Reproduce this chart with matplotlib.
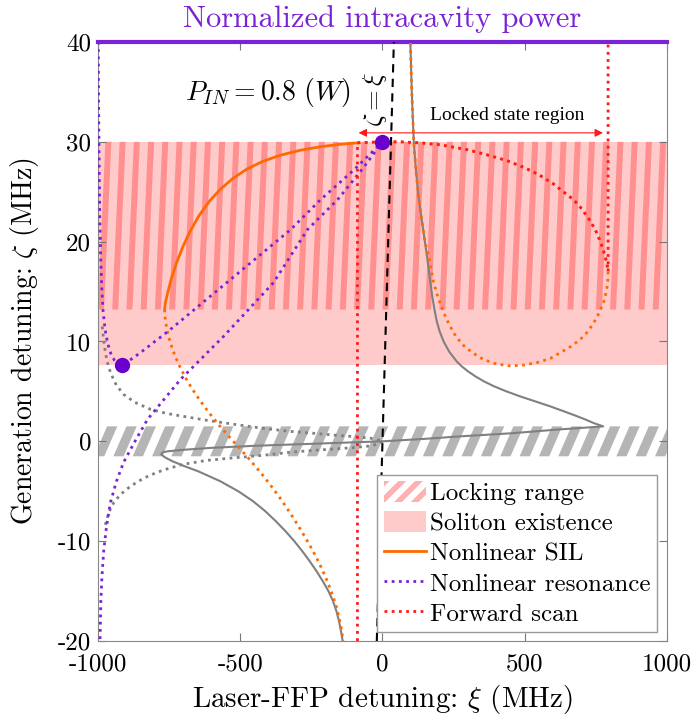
import numpy as np
import matplotlib
matplotlib.use('Agg')
import matplotlib.pyplot as plt
from matplotlib.collections import PolyCollection
from matplotlib.patches import Patch

plt.rcParams['font.family'] = 'cmr10'
plt.rcParams['mathtext.fontset'] = 'cm'
plt.rcParams['axes.unicode_minus'] = False
plt.rcParams['hatch.linewidth'] = 4

# bands (MHz)
soliton_lo, soliton_hi = 7.6, 30.0
lock_lo, lock_hi = 13.2, 30.0
lin_lock_lo, lin_lock_hi = -1.5, 1.5

# ticks
xticks = [-1000, -500, 0, 500, 1000]
yticks = [-20, -10, 0, 10, 20, 30, 40]

# linear SIL curve (grey solid)
lin_xi = [-140, -146, -153, -162, -174, -190, -210, -232, -256, -282, -310, -341, -375, -412, -455, -507,
          -570, -648, -695, -738, -765, -778,
          -772, -755, -700, -600, -450, -300, -150, 0,
          150, 274, 450, 625, 730, 776,
          745, 712, 676, 638, 590, 537, 484, 436, 393, 357, 327, 301, 279, 261, 234, 215, 201, 191,
          184, 175, 168, 159, 149, 139, 128, 118, 110, 103, 98]
lin_zeta = [-20, -19, -18, -17, -16, -15, -14, -13, -12, -11, -10, -9, -8, -7, -6, -5,
            -4, -3, -2.5, -2.0, -1.6, -1.3,
            -1.1, -1.0, -0.85, -0.65, -0.45, -0.3, -0.15, 0,
            0.25, 0.5, 0.8, 1.2, 1.4, 1.5,
            1.8, 2.2, 2.6, 3.0, 3.5, 4.0, 4.5, 5.0, 5.5, 6.0, 6.5, 7.0, 7.5, 8.0, 9.0, 10.0, 11.0, 12.0,
            13.0, 14.5, 16.0, 18.0, 20.0, 22.0, 24.2, 27.0, 30.0, 35.0, 40.0]

# linear resonance (grey dotted), upper and lower branches
linres_up_xi = [-985, -978, -968, -955, -935, -910, -870, -815, -760, -700, -616, -520, -420, -326,
                -240, -160, -90, -40, -10, 0]
linres_up_zeta = [11.5, 9.6, 8.0, 6.8, 5.6, 4.7, 3.9, 3.2, 2.8, 2.5, 2.1, 1.7, 1.3, 1.0,
                  0.8, 0.6, 0.45, 0.3, 0.1, 0]
linres_lo_xi = [0, -10, -40, -90, -160, -240, -326, -420, -520, -616, -700, -750, -792, -840, -886,
                -920, -944, -960, -970, -978]
linres_lo_zeta = [0, -0.2, -0.45, -0.6, -0.75, -0.9, -1.1, -1.4, -1.65, -1.9, -2.3, -2.7, -3.1, -3.7, -4.5,
                  -5.3, -6.1, -7.0, -7.9, -8.8]

# nonlinear SIL (orange): stable arc, lower unstable part, upper right part, loop
sil_stable_xi = [-88, -150, -220, -290, -360, -420, -475, -525, -570, -610, -645, -677, -703, -725, -742,
                 -755, -763, -766]
sil_stable_zeta = [29.9, 29.75, 29.5, 29.15, 28.65, 28.05, 27.3, 26.35, 25.25, 24.0, 22.6, 21.0, 19.4,
                   17.8, 16.3, 14.9, 13.9, 13.2]
sil_lower_xi = [-766, -764, -759, -751, -740, -727, -711, -693, -672, -649, -624, -597, -568, -537, -505,
                -474, -444, -415, -388, -362, -338, -315, -293, -272, -252, -233, -216, -200, -186, -173,
                -162, -153, -146, -138]
sil_lower_zeta = [13.2, 12.4, 11.4, 10.4, 9.4, 8.4, 7.4, 6.4, 5.4, 4.4, 3.4, 2.4, 1.4, 0.4, -0.6,
                  -1.6, -2.6, -3.6, -4.6, -5.6, -6.6, -7.6, -8.6, -9.6, -10.6, -11.6, -12.6, -13.6, -14.6,
                  -15.6, -16.6, -17.6, -18.6, -20.0]
sil_top_xi = [-88, 0, 60, 130, 204, 300, 380, 439, 500, 550, 600, 640, 672, 700, 725, 748, 766, 780, 789, 793]
sil_top_zeta = [29.9, 30.0, 30.0, 29.9, 29.7, 29.2, 28.6, 28.1, 27.4, 26.7, 25.8, 24.9, 24.2, 23.3, 22.3,
                21.2, 20.0, 18.8, 17.8, 17.0]
sil_loop_xi = [793, 792, 787, 778, 764, 745, 722, 695, 662, 626, 590, 545, 500, 450, 400, 355, 315, 285,
               258, 236, 218, 203, 191, 181, 172, 163, 149, 139, 128, 118, 110, 103, 98]
sil_loop_zeta = [17.0, 16.0, 15.0, 14.0, 13.0, 12.0, 11.0, 10.2, 9.5, 8.9, 8.3, 7.9, 7.65, 7.55, 7.75, 8.2,
                 8.9, 9.6, 10.5, 11.6, 12.7, 13.8, 14.8, 15.8, 17.0, 18.5, 20.0, 22.0, 24.2, 27.0, 30.0,
                 35.0, 40.0]

# nonlinear resonance (purple dotted)
res_xi = [-999, -998, -996, -994, -991, -987, -982, -975, -966, -955, -942, -928, -914,
          -850, -750, -560, -323, -218, -100, 0,
          -70, -158, -264, -383, -559, -710, -826, -870, -910, -935, -956, -970, -980, -986, -990, -993]
res_zeta = [40, 34, 28, 23, 19, 15.5, 13, 11.2, 9.8, 8.8, 8.1, 7.7, 7.6,
            8.9, 11.1, 15.6, 21.2, 24.2, 27.2, 30,
            27.3, 24.2, 21.2, 15.9, 10.5, 6.2, 2.2, 0.0, -2.1, -4.0, -6.1, -8.5, -11, -13.5, -16, -20]
res_pts_xi = [0, -914]
res_pts_zeta = [30, 7.6]

# forward scan (red dotted)
scan_start_xi = -88
scan_xi = [scan_start_xi, scan_start_xi] + sil_top_xi + [sil_top_xi[-1]]
scan_zeta = [-20, 29.9] + sil_top_zeta + [40]

# zeta = xi line
diag_xi = np.array([-20, 40])

purple = '#7a22d6'
orange = '#ff6a00'
red = '#ff1a1a'
grey = '#808080'

fig = plt.figure(figsize=(6.96, 7.19), dpi=100)
ax = fig.add_axes([0.1408, 0.1085, 0.8175, 0.8331])

# soliton existence band
ax.axhspan(soliton_lo, soliton_hi, color='#ffcaca', lw=0, zorder=0)

# locking range stripes
stripes = []
for x0 in np.arange(-1150, 1100, 50):
    stripes.append([(x0, lock_lo), (x0 + 21, lock_lo), (x0 + 21 + 26, lock_hi), (x0 + 26, lock_hi)])
ax.add_collection(PolyCollection(stripes, facecolors='#ff9090', edgecolors='none', zorder=1))

gstripes = []
for x0 in np.arange(-1150, 1100, 68):
    gstripes.append([(x0, lin_lock_lo), (x0 + 36, lin_lock_lo), (x0 + 36 + 46, lin_lock_hi), (x0 + 46, lin_lock_hi)])
ax.add_collection(PolyCollection(gstripes, facecolors='#b5b5b5', edgecolors='none', zorder=1))

dot = (0, (1, 1.6))
ax.plot(lin_xi, lin_zeta, color=grey, lw=1.5, zorder=2)
ax.plot(linres_up_xi, linres_up_zeta, color=grey, lw=2, ls=dot, zorder=2)
ax.plot(linres_lo_xi, linres_lo_zeta, color=grey, lw=2, ls=dot, zorder=2)

ax.plot(diag_xi, diag_xi, color='black', lw=1.5, ls=(0, (4, 3)), zorder=3)

l_sil, = ax.plot(sil_stable_xi, sil_stable_zeta, color=orange, lw=2, zorder=4)
ax.plot(sil_lower_xi, sil_lower_zeta, color=orange, lw=2, ls=dot, zorder=4)
ax.plot(sil_top_xi, sil_top_zeta, color=orange, lw=2, ls=dot, zorder=4)
ax.plot(sil_loop_xi, sil_loop_zeta, color=orange, lw=2, ls=dot, zorder=4)

l_res, = ax.plot(res_xi, res_zeta, color=purple, lw=2, ls=dot, zorder=5)
l_scan, = ax.plot(scan_xi, scan_zeta, color=red, lw=2, ls=dot, zorder=5)
ax.plot(res_pts_xi, res_pts_zeta, 'o', color='#6a00cc', ms=10, zorder=6)

ax.annotate('', xy=(-84, 30.9), xytext=(775, 30.9),
            arrowprops=dict(arrowstyle='<|-|>', color=red, lw=0.8, mutation_scale=12, shrinkA=0, shrinkB=0))
ax.text(440, 32.6, 'Locked state region', family='Liberation Serif', fontsize=14, ha='center', va='center')
ax.text(-404, 34.9, r'$P_{IN}=0.8\ (W)$', fontsize=20, ha='center', va='center')
ax.text(-25, 34.2, r'$\zeta=\xi$', fontsize=19, rotation=90, ha='center', va='center')

ax.set_xlim(-1000, 1000)
ax.set_ylim(-20, 40)
ax.set_xticks(xticks)
ax.set_xticklabels([str(v) for v in xticks])
ax.set_yticks(yticks)
ax.set_yticklabels([str(v) for v in yticks])
ax.tick_params(direction='in', top=True, right=True, length=6, width=0.8, color='#777777',
               labelsize=18)
ax.tick_params(axis='x', pad=9)
ax.tick_params(axis='y', pad=5)
for s in ['bottom', 'left', 'right']:
    ax.spines[s].set_color('#888888')
    ax.spines[s].set_linewidth(0.8)
ax.spines['top'].set_color(purple)
ax.spines['top'].set_linewidth(3)

ax.set_xlabel(r'Laser-FFP detuning: $\xi$ (MHz)', fontsize=21)
ax.xaxis.set_label_coords(0.5, -0.07)
ax.set_ylabel(r'Generation detuning: $\zeta$ (MHz)', fontsize=20)
ax.yaxis.set_label_coords(-0.1, 0.5)
ax.set_title('Normalized intracavity power', color=purple, fontsize=22, pad=11)

p_lock = Patch(facecolor='white', edgecolor='#ffb0b0', hatch='//', linewidth=0)
p_sol = Patch(facecolor='#ffcaca', edgecolor='none')
leg = ax.legend([p_lock, p_sol, l_sil, l_res, l_scan],
                ['Locking range', 'Soliton existence', 'Nonlinear SIL', 'Nonlinear resonance', 'Forward scan'],
                loc='lower right', bbox_to_anchor=(0.982, 0.015), borderaxespad=0, fontsize=18,
                fancybox=False, framealpha=1, edgecolor='#999999', handlelength=1.7, handletextpad=0.15,
                labelspacing=0.25, borderpad=0.25, handleheight=0.9)
leg.get_frame().set_linewidth(1)

plt.savefig('out.png', dpi=100)
